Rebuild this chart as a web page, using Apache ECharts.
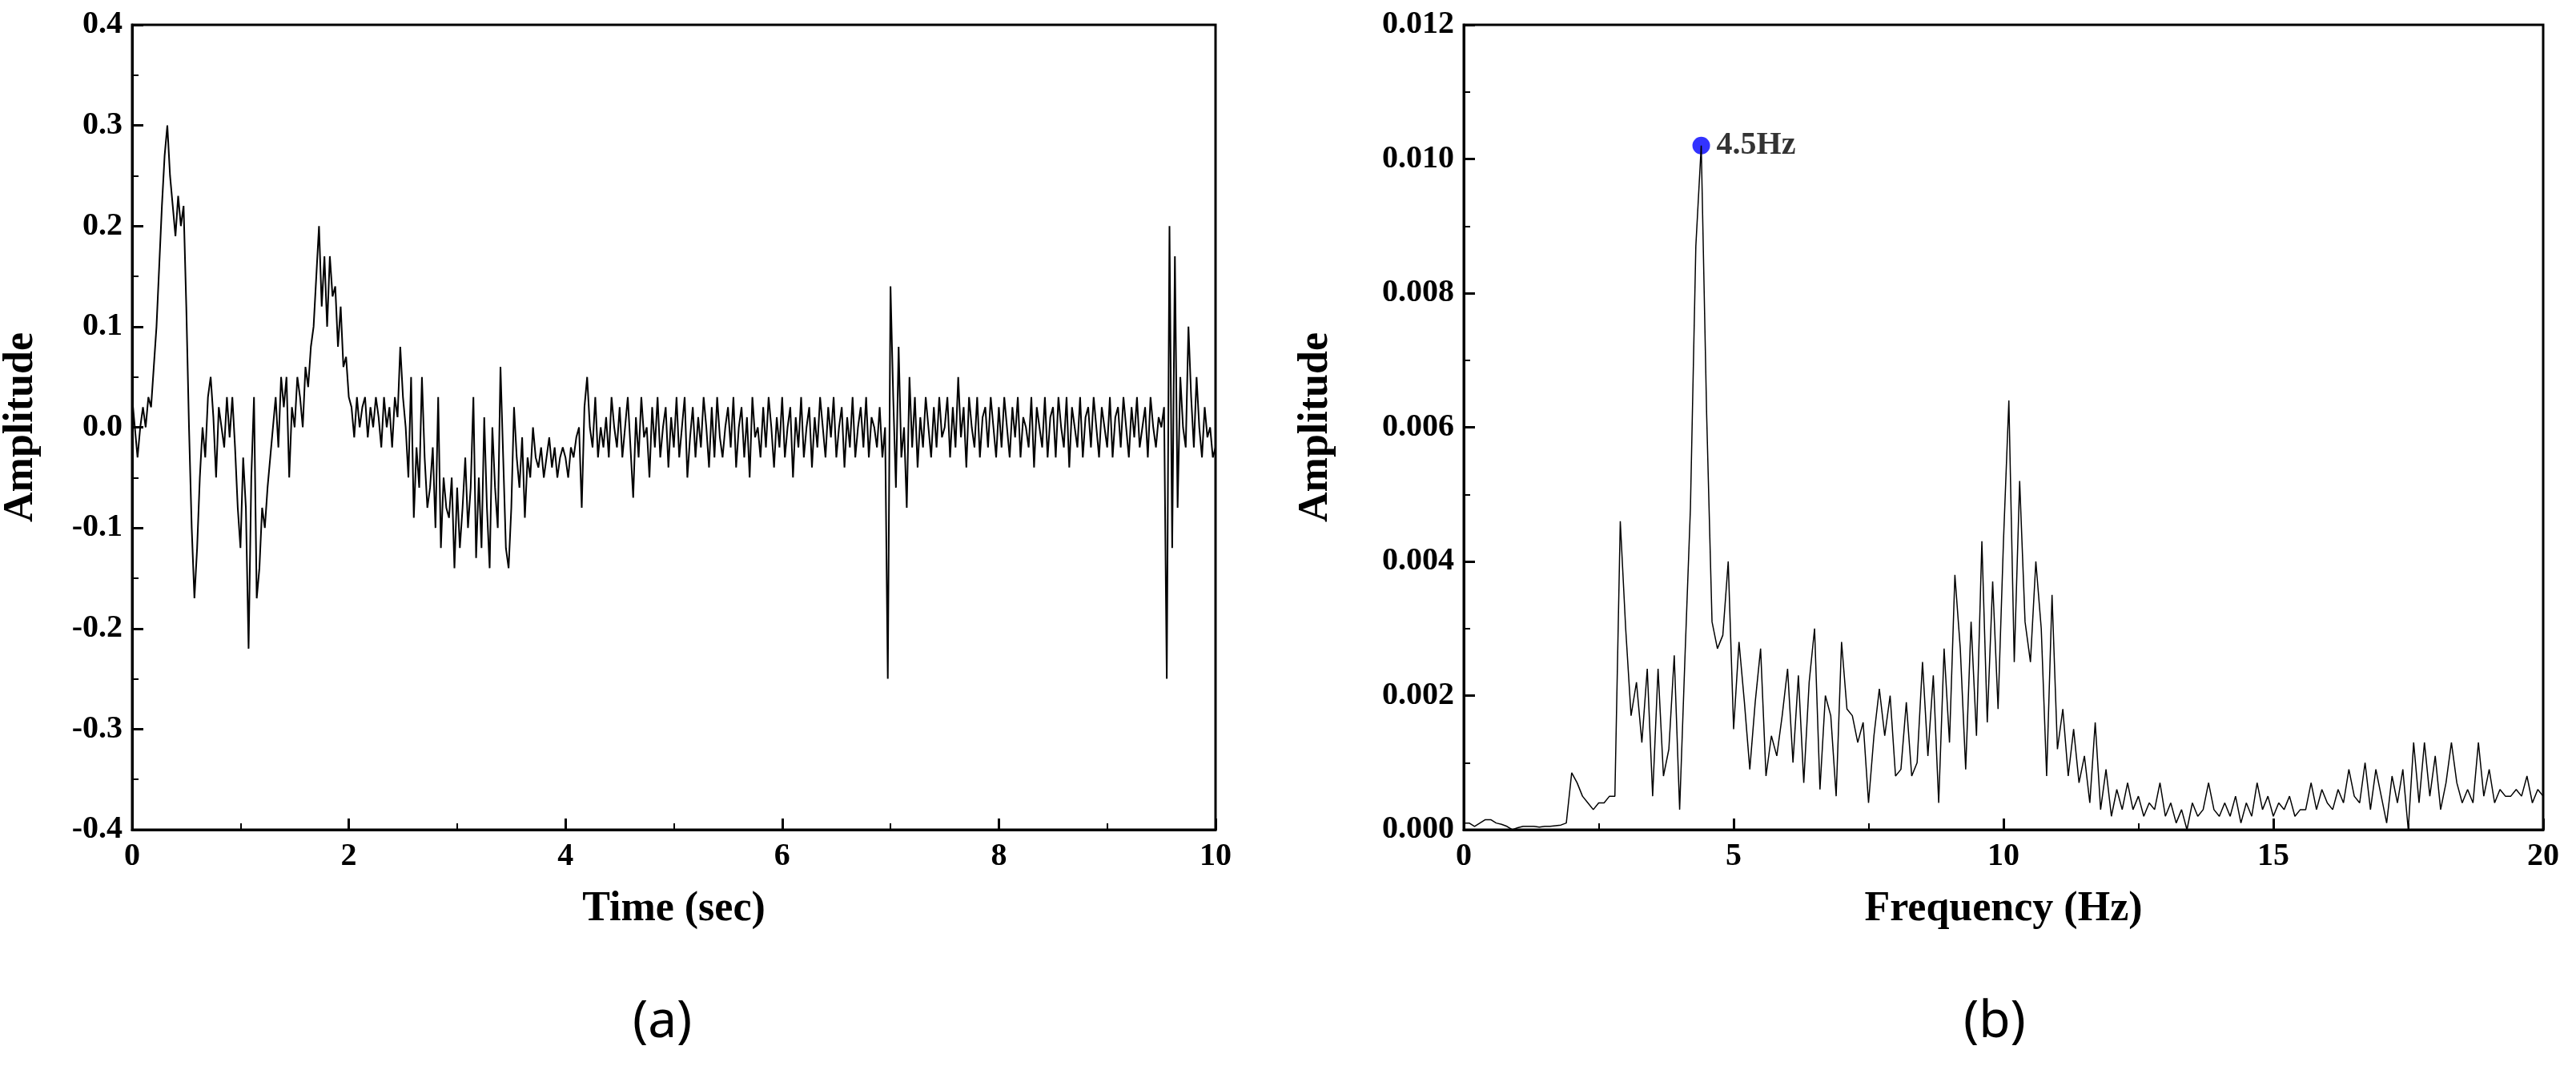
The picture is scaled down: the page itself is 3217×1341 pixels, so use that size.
<!DOCTYPE html>
<html>
<head>
<meta charset="utf-8">
<script src="https://cdn.jsdelivr.net/npm/echarts@6/dist/echarts.min.js"></script>
<style>html,body{margin:0;background:#fff}#main{width:3217px;height:1341px}</style>
</head>
<body>
<div id="main"></div>
<script>
// time signal, one value every 0.025 s from 0 to 10 s
var timeStep = 0.025;
var timeAmp = [
 0.03,0.0,-0.03,0.0,0.02,0.0,0.03,0.02,0.06,0.1,0.16,0.22,0.27,0.30,0.25,0.22,0.19,0.23,0.2,0.22,
 0.12,0.0,-0.1,-0.17,-0.12,-0.05,0.0,-0.03,0.03,0.05,0.01,-0.05,0.02,0.0,-0.02,0.03,-0.01,0.03,-0.02,-0.08,
 -0.12,-0.03,-0.08,-0.22,-0.05,0.03,-0.17,-0.14,-0.08,-0.1,-0.06,-0.03,0.0,0.03,-0.02,0.05,0.02,0.05,-0.05,0.02,
 0.0,0.05,0.03,0.0,0.06,0.04,0.08,0.1,0.15,0.2,0.12,0.17,0.1,0.17,0.13,0.14,0.08,0.12,0.06,0.07,
 0.03,0.02,-0.01,0.03,0.0,0.02,0.03,-0.01,0.02,0.0,0.03,0.01,-0.02,0.03,0.0,0.02,-0.02,0.03,0.01,0.08,
 0.03,0.0,-0.05,0.05,-0.09,-0.02,-0.06,0.05,-0.03,-0.08,-0.06,-0.02,-0.1,0.03,-0.12,-0.05,-0.08,-0.09,-0.05,-0.14,
 -0.06,-0.12,-0.08,-0.03,-0.1,-0.06,0.03,-0.13,-0.05,-0.12,0.01,-0.08,-0.14,0.0,-0.06,-0.1,0.06,-0.03,-0.12,-0.14,
 -0.08,0.02,-0.03,-0.06,-0.01,-0.09,-0.03,-0.05,0.0,-0.03,-0.04,-0.02,-0.05,-0.03,-0.01,-0.04,-0.02,-0.05,-0.03,-0.02,
 -0.03,-0.05,-0.02,-0.03,-0.01,0.0,-0.08,0.02,0.05,0.0,-0.02,0.03,-0.03,0.0,-0.02,0.01,-0.03,0.03,0.0,-0.02,
 0.02,-0.03,0.0,0.03,-0.02,-0.07,0.01,-0.03,0.03,-0.01,0.0,-0.05,0.02,-0.02,0.03,-0.03,0.0,0.02,-0.04,0.01,
 -0.02,0.03,-0.03,0.0,0.03,-0.05,-0.01,0.02,-0.03,0.01,-0.02,0.03,0.0,-0.04,0.02,-0.03,0.03,-0.01,-0.03,0.0,
 0.02,-0.02,0.03,-0.04,0.0,0.02,-0.03,0.01,-0.05,0.03,-0.01,0.0,-0.03,0.02,-0.02,0.03,0.0,-0.04,0.01,-0.02,
 0.03,-0.03,0.0,0.02,-0.05,0.01,-0.02,0.03,-0.03,0.0,0.02,-0.04,0.01,-0.02,0.03,0.0,-0.03,0.02,-0.01,0.03,
 -0.03,0.0,0.02,-0.04,0.01,-0.02,0.03,-0.03,0.0,0.02,-0.02,0.03,-0.03,0.01,0.0,-0.02,0.02,-0.03,0.0,-0.25,
 0.14,0.03,-0.06,0.08,-0.03,0.0,-0.08,0.05,-0.02,0.03,-0.04,0.01,-0.02,0.03,0.0,-0.03,0.02,-0.02,0.03,-0.01,
 0.0,0.03,-0.03,0.02,-0.02,0.05,-0.01,0.02,-0.04,0.03,0.0,-0.02,0.03,-0.03,0.01,0.02,-0.02,0.03,0.0,-0.03,
 0.02,-0.02,0.03,0.0,-0.03,0.02,-0.01,0.03,-0.03,0.01,0.0,-0.02,0.03,-0.04,0.02,0.0,-0.02,0.03,-0.03,0.01,
 0.02,-0.03,0.03,0.0,-0.02,0.03,-0.04,0.02,0.0,-0.02,0.03,-0.03,0.01,0.02,-0.02,0.03,0.0,-0.03,0.02,0.0,
 -0.02,0.03,-0.03,0.01,0.02,-0.02,0.03,0.0,-0.03,0.02,-0.01,0.03,-0.02,0.0,0.02,-0.03,0.03,0.0,-0.02,0.01,
 0.0,0.02,-0.25,0.2,-0.12,0.17,-0.08,0.05,0.0,-0.02,0.1,0.03,-0.02,0.05,0.0,-0.03,0.02,-0.01,0.0,-0.03,
 -0.02
];

// spectrum, one value every 0.1 Hz from 0 to 20 Hz
var freqStep = 0.1;
var freqAmp = [
 0.0001,0.0001,0.00005,0.0001,0.00015,0.00015,0.0001,0.00008,0.00005,0.0,0.00003,0.00005,0.00005,0.00005,0.00004,0.00005,0.00005,0.00006,0.00007,0.0001,
 0.00085,0.0007,0.0005,0.0004,0.0003,0.0004,0.0004,0.0005,0.0005,
 0.0046,0.003,0.0017,0.0022,0.0013,0.0024,0.0005,0.0024,0.0008,0.0012,0.0026,
 0.0003,0.0026,0.0048,0.0087,0.0102,0.0062,0.0031,0.0027,0.0029,0.004,
 0.0015,0.0028,0.0019,0.0009,0.0019,0.0027,0.0008,0.0014,0.0011,0.0017,
 0.0024,0.001,0.0023,0.0007,0.0022,0.003,0.0006,0.002,0.0017,0.0005,
 0.0028,0.0018,0.0017,0.0013,0.0016,0.0004,0.0014,0.0021,0.0014,0.002,
 0.0008,0.0009,0.0019,0.0008,0.001,0.0025,0.0011,0.0023,0.0004,0.0027,
 0.0013,0.0038,0.0027,0.0009,0.0031,0.0014,0.0043,0.0016,0.0037,0.0018,
 0.0043,0.0064,0.0025,0.0052,0.0031,0.0025,0.004,0.003,0.0008,0.0035,
 0.0012,0.0018,0.0008,0.0015,0.0007,0.0011,0.0004,0.0016,0.0003,0.0009,
 0.0002,0.0006,0.0003,0.0007,0.0003,0.0005,0.0002,0.0004,0.0003,0.0007,
 0.0002,0.0004,0.0001,0.0003,0.0,0.0004,0.0002,0.0003,0.0007,0.0003,
 0.0002,0.0004,0.0002,0.0005,0.0001,0.0004,0.0002,0.0007,0.0003,0.0005,
 0.0002,0.0004,0.0003,0.0005,0.0002,0.0003,0.0003,0.0007,0.0003,0.0006,
 0.0004,0.0003,0.0006,0.0004,0.0009,0.0005,0.0004,0.001,0.0003,0.0009,
 0.0005,0.0001,0.0008,0.0004,0.0009,0.0,0.0013,0.0004,0.0013,0.0005,
 0.0011,0.0003,0.0007,0.0013,0.0007,0.0004,0.0006,0.0004,0.0013,0.0005,
 0.0009,0.0004,0.0006,0.0005,0.0005,0.0006,0.0005,0.0008,0.0004,0.0006,
 0.0005
];
var peak = [4.4, 0.0102];
var peakLabel = '4.5Hz';

var font = 'Liberation Serif';
function pairs(vals, step) {
	return vals.map(function(v, i){ return [+(i * step).toFixed(3), v]; });
}
function xAxisCfg(idx, max, interval, name) {
	return {
		gridIndex: idx, type: 'value', min: 0, max: max, interval: interval,
		name: name, nameLocation: 'middle', nameGap: 74,
		nameTextStyle: {fontFamily: font, fontWeight: 'bold', fontSize: 52, color: '#000'},
		axisLine: {onZero: false, lineStyle: {color: '#000', width: 3}},
		axisTick: {inside: true, length: 14, lineStyle: {color: '#000', width: 3}},
		minorTick: {show: true, splitNumber: 2, length: 8, lineStyle: {color: '#000', width: 2}},
		axisLabel: {fontFamily: font, fontWeight: 'bold', fontSize: 40, color: '#000', margin: 14},
		splitLine: {show: false}
	};
}
function yAxisCfg(idx, min, max, interval, digits, gap) {
	return {
		gridIndex: idx, type: 'value', min: min, max: max, interval: interval,
		name: 'Amplitude', nameLocation: 'middle', nameGap: gap,
		nameTextStyle: {fontFamily: font, fontWeight: 'bold', fontSize: 52, color: '#000'},
		axisLine: {onZero: false, lineStyle: {color: '#000', width: 3}},
		axisTick: {inside: true, length: 14, lineStyle: {color: '#000', width: 3}},
		minorTick: {show: true, splitNumber: 2, length: 8, lineStyle: {color: '#000', width: 2}},
		axisLabel: {fontFamily: font, fontWeight: 'bold', fontSize: 40, color: '#000', margin: 12,
			formatter: function(v){ return v.toFixed(digits); }},
		splitLine: {show: false}
	};
}

var myChart = echarts.init(document.getElementById('main'));
var option = {
	animation: false,
	backgroundColor: '#fff',
	grid: [
		{left: 164, top: 31, width: 1354, height: 1005, show: true, borderColor: '#000', borderWidth: 3},
		{left: 1828, top: 31, width: 1348, height: 1005, show: true, borderColor: '#000', borderWidth: 3}
	],
	xAxis: [xAxisCfg(0, 10, 2, 'Time (sec)'), xAxisCfg(1, 20, 5, 'Frequency (Hz)')],
	yAxis: [yAxisCfg(0, -0.4, 0.4, 0.1, 1, 112), yAxisCfg(1, 0, 0.012, 0.002, 3, 158)],
	graphic: [
		{type: 'text', left: 790, top: 1245, style: {text: '(a)', font: '64px "Noto Sans"', fill: '#000'}},
		{type: 'text', left: 2452, top: 1245, style: {text: '(b)', font: '64px "Noto Sans"', fill: '#000'}}
	],
	series: [
		{type: 'line', xAxisIndex: 0, yAxisIndex: 0, data: pairs(timeAmp, timeStep), showSymbol: false,
			lineStyle: {color: '#000', width: 2}},
		{type: 'line', xAxisIndex: 1, yAxisIndex: 1, data: pairs(freqAmp, freqStep), showSymbol: false,
			lineStyle: {color: '#000', width: 1.5}},
		{type: 'scatter', xAxisIndex: 1, yAxisIndex: 1, data: [peak], symbolSize: 22,
			itemStyle: {color: '#0000ff'},
			label: {show: true, position: 'right', distance: 8, formatter: peakLabel,
				fontFamily: font, fontWeight: 'bold', fontSize: 40, color: '#000'}}
	]
};
myChart.setOption(option);
</script>
</body>
</html>
